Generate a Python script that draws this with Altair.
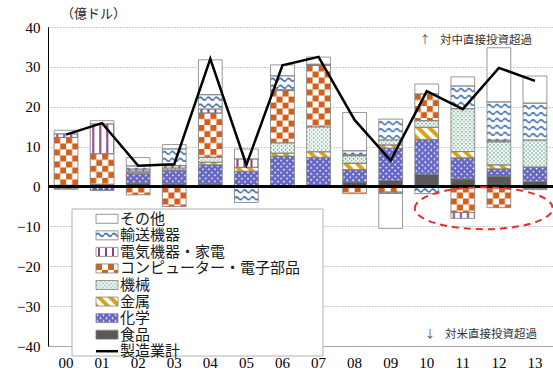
import base64
import altair as alt
import pandas as pd

years = ["00", "01", "02", "03", "04", "05", "06", "07", "08", "09", "10", "11", "12", "13"]

series = ["食品", "化学", "金属", "機械", "コンピューター・電子部品", "電気機器・家電", "輸送機器", "その他"]

food      = [0.1, -0.2, 0.85, 0.67, 0.67, -0.2, 0.25, 0.1, 1.1, 1.5, 3.0, 1.9, 2.6, 1.25]
chem      = [-0.4, -0.8, 2.3, 3.25, 4.75, 3.8, 7.35, 7.2, 3.1, 8.1, 8.75, 5.25, 1.8, 3.6]
metal     = [-0.3, 0.2, 0.3, 0.2, 0.65, 1.0, 0.75, 1.4, 1.6, 0.8, 3.1, 1.6, 1.0, -0.5]
machine   = [0.2, 0.3, 0.4, 0.5, 1.25, 0.0, 2.6, 6.25, 1.9, 1.25, 1.65, 10.75, 5.8, 6.8]
computer  = [12.0, 7.7, -2.1, -5.0, 11.1, 0.0, 13.1, 15.4, -1.8, -1.4, 6.7, -6.5, -5.3, 0.0]
elec      = [0.9, 7.5, 0.5, 0.6, 1.0, 2.1, 0.2, 0.3, 0.25, -0.3, 0.0, -1.5, 0.4, -0.3]
transport = [0.0, 0.0, 0.8, 4.2, 3.6, -3.8, 3.5, 0.0, 1.0, 5.25, -1.8, 5.7, 9.6, 9.25]
other     = [0.9, 0.8, 2.1, 1.1, 8.75, 2.5, 2.75, 1.8, 9.6, -8.8, 2.5, 2.3, 13.6, 6.8]

total = [13.0, 15.9, 5.2, 5.6, 32.0, 5.4, 30.4, 32.5, 16.7, 6.5, 23.9, 19.4, 29.75, 26.5]

legend_labels = ["その他", "輸送機器", "電気機器・家電", "コンピューター・電子部品", "機械", "金属", "化学", "食品", "製造業計"]
y_ticks = [-40, -30, -20, -10, 0, 10, 20, 30, 40]

# ---------- pattern fills (SVG images) ----------
def pat(w, h, inner, extra=""):
    svg = ('<svg xmlns="http://www.w3.org/2000/svg" width="100%" height="100%">'
           f'<defs><pattern id="p" patternUnits="userSpaceOnUse" width="{w}" height="{h}" {extra}>'
           f'{inner}</pattern></defs><rect width="100%" height="100%" fill="url(#p)"/></svg>')
    return "data:image/svg+xml;base64," + base64.b64encode(svg.encode("utf-8")).decode("ascii")

patterns = {
    "食品": pat(4, 4, '<rect width="4" height="4" fill="#595959"/>'),
    "化学": pat(6, 6, '<rect width="6" height="6" fill="#6666c4"/>'
                    '<circle cx="1.5" cy="1.5" r="0.9" fill="#fff"/>'
                    '<circle cx="4.5" cy="4.5" r="0.9" fill="#fff"/>'),
    "金属": pat(8, 8, '<rect width="8" height="8" fill="#fff"/><rect width="4" height="8" fill="#d9a21b"/>',
               'patternTransform="rotate(-45)"'),
    "機械": pat(4, 4, '<rect width="4" height="4" fill="#f4faf6"/>'
                    '<circle cx="1" cy="1" r="0.75" fill="#5e9c7e"/>'
                    '<circle cx="3" cy="3" r="0.75" fill="#5e9c7e"/>'),
    "コンピューター・電子部品": pat(12, 12, '<rect width="12" height="12" fill="#fff"/>'
                    '<rect width="6" height="6" fill="#d35f1a"/>'
                    '<rect x="6" y="6" width="6" height="6" fill="#d35f1a"/>'),
    "電気機器・家電": pat(7, 7, '<rect width="7" height="7" fill="#fff"/>'
                    '<rect x="2" width="2" height="7" fill="#8e3e82"/>'),
    "輸送機器": pat(8, 7, '<rect width="8" height="7" fill="#fff"/>'
                    '<path d="M0 4 Q2 1.2 4 4 T8 4" stroke="#3569ab" stroke-width="1.6" fill="none"/>'),
    "その他": pat(4, 4, '<rect width="4" height="4" fill="#fff"/>'),
}
fallback = {
    "食品": "#595959", "化学": "#6868c6", "金属": "#e6c56a", "機械": "#dcebe2",
    "コンピューター・電子部品": "#e49a6a", "電気機器・家電": "#c49bbd", "輸送機器": "#a9c2e0", "その他": "#ffffff",
}

values = [food, chem, metal, machine, computer, elec, transport, other]
rows = []
for si, (name, vals) in enumerate(zip(series, values)):
    for yr, v in zip(years, vals):
        rows.append({"year": yr, "series": name, "value": v, "order": si,
                     "url": patterns[name], "fb": fallback[name]})
df = pd.DataFrame(rows)
line_df = pd.DataFrame({"year": years, "total": total})

leg_rows = []
for i, lab in enumerate(legend_labels):
    leg_rows.append({"label": lab, "row": i, "url": patterns.get(lab, "")})
leg_df = pd.DataFrame(leg_rows)

# ---------- encodings ----------
x_scale = alt.Scale(domain=years, paddingInner=0.34, paddingOuter=0.17)
x_axis = alt.Axis(title=None, labelAngle=0, ticks=False, tickSize=0, domainColor="#a6a6a6",
                  labelFont="Liberation Serif", labelFontSize=15, labelColor="#000",
                  labelPadding=9, grid=False)
x_enc = alt.X("year:N", sort=years, scale=x_scale, axis=x_axis)
y_scale = alt.Scale(domain=[-40, 40], nice=False, zero=False)
y_axis = alt.Axis(title=None, values=y_ticks, grid=True, gridColor="#9a9a9a", gridDash=[1, 2],
                  domainColor="#000", ticks=False, tickSize=0, labelFont="Liberation Serif",
                  labelFontSize=15, labelColor="#000", labelPadding=8, labelOverlap=False)

stacked = (alt.Chart(df)
           .transform_filter("datum.value != 0")
           .transform_stack(stack="value", groupby=["year"], as_=["y0", "y1"],
                            sort=[alt.SortField("order", order="ascending")]))

bar_fill = stacked.mark_bar().encode(
    x=x_enc, y=alt.Y("y0:Q", scale=y_scale, axis=y_axis), y2="y1:Q",
    color=alt.Color("fb:N", scale=None))
bar_img = stacked.mark_image(aspect=False).encode(
    x=x_enc, y=alt.Y("y0:Q", scale=y_scale, axis=y_axis), y2="y1:Q", url="url:N")
bar_outline = stacked.mark_bar(fillOpacity=0, stroke="#7f7f7f", strokeWidth=0.8).encode(
    x=x_enc, y=alt.Y("y0:Q", scale=y_scale, axis=y_axis), y2="y1:Q")

zero_rule = alt.Chart(line_df).mark_rule(color="#000", strokeWidth=1.5).encode(
    y=alt.Y(datum=0, type="quantitative", scale=y_scale, axis=y_axis))

line = alt.Chart(line_df).mark_line(color="#000", strokeWidth=2.5).encode(
    x=x_enc, y=alt.Y("total:Q", scale=y_scale, axis=y_axis))

# ---------- legend ----------
one = pd.DataFrame({"a": [0]})
leg_box = alt.Chart(one).mark_rect(fill="#fff", stroke="#b0b0b0", strokeWidth=1).encode(
    x=alt.value(24), x2=alt.value(275), y=alt.value(182), y2=alt.value(329))

leg_base = (alt.Chart(leg_df)
            .transform_calculate(ly="191.8 + 16.55 * datum.row")
            .transform_calculate(ly0="datum.ly - 4.5", ly1="datum.ly + 4.5"))
leg_sym = leg_base.transform_filter("datum.row < 8")
leg_img = leg_sym.mark_image(aspect=False).encode(
    x=alt.value(48), x2=alt.value(70),
    y=alt.Y("ly0:Q", scale=None), y2="ly1:Q", url="url:N")
leg_outline = leg_sym.mark_rect(fillOpacity=0, stroke="#7f7f7f", strokeWidth=0.8).encode(
    x=alt.value(48), x2=alt.value(70), y=alt.Y("ly0:Q", scale=None), y2="ly1:Q")
leg_text = leg_base.mark_text(align="left", baseline="middle", font="Noto Sans CJK JP",
                              fontSize=15, color="#1a1a1a").encode(
    x=alt.value(72), y=alt.Y("ly:Q", scale=None), text="label:N")
leg_line = alt.Chart(one).mark_rule(color="#000", strokeWidth=2.5).encode(
    x=alt.value(48), x2=alt.value(70), y=alt.value(324.2))

# ---------- annotations ----------
def txt(s, x, y, size=12, align="left", color="#333"):
    return alt.Chart(one).mark_text(text=s, align=align, baseline="middle", font="Noto Sans CJK JP",
                                    fontSize=size, color=color).encode(x=alt.value(x), y=alt.value(y))

ann = [
    txt("↑", 377, 14, 11, "center", "#555"),
    txt("対中直接投資超過", 392, 14, 11.5),
    txt("↓", 382, 308, 11, "center", "#555"),
    txt("対米直接投資超過", 397, 308, 11.5),
    txt("（億ドル）", 13, -13, 13, "left", "#222"),
]

ellipse = alt.Chart(one).mark_point(
    shape="M -0.696 0 A 1 0.304 0 1 1 1.304 0 A 1 0.304 0 1 1 -0.696 0 Z",
    size=19044, filled=False, stroke="#e8302a", strokeWidth=2, strokeDash=[7, 5], opacity=1
).encode(x=alt.X(datum="11", type="nominal", scale=x_scale, axis=x_axis),
         y=alt.Y(datum=-5.45, type="quantitative", scale=y_scale, axis=y_axis))

chart = alt.layer(
    bar_fill, bar_img, bar_outline, zero_rule, line,
    leg_box, leg_img, leg_outline, leg_text, leg_line,
    *ann, ellipse
).properties(
    width=505, height=319,
    padding={"left": 48, "top": 27, "right": 0, "bottom": 30},
    autosize=alt.AutoSizeParams(type="none"),
    background="#ffffff",
).configure_view(stroke=None)

chart.save("out.html", embed_options={"renderer": "svg", "actions": False})
